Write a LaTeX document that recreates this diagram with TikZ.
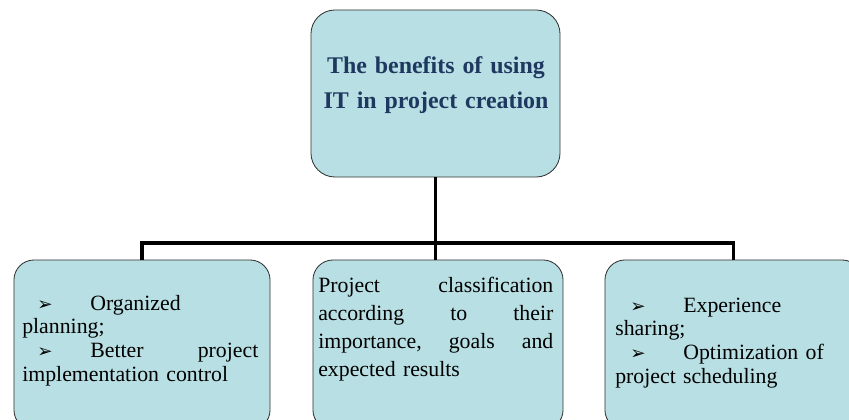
\documentclass[tikz,border=0pt]{standalone}
\usepackage{fontspec}
\setmainfont{Liberation Serif}
\newfontfamily\symfont{DejaVu Sans}
\usetikzlibrary{positioning}

\definecolor{boxfill}{RGB}{184,223,227}
\definecolor{titleblue}{RGB}{31,56,96}
\newcommand{\arrowitem}{\hspace*{0.38cm}\makebox[1.32cm][l]{\symfont\fontsize{13}{13}\selectfont ➢}}

\tikzset{
	benefitbox/.style={draw=black!80, line width=0.6pt, fill=boxfill, rounded corners=0.5cm, inner sep=0pt},
	boxtext/.style={anchor=base west, inner sep=0pt, text width=5.9cm, align=left, font=\fontsize{15.5}{17}\selectfont},
	stem/.style={line width=2.2pt, black},
}

\begin{document}
\begin{tikzpicture}[x=0.025cm, y=-0.025cm]
	\useasboundingbox (0,0) rectangle (849,420);
	\clip (0,0) rectangle (849,420);
	\node [benefitbox, minimum width=6.225cm, minimum height=4.175cm, rounded corners=0.6cm] (top) at (435.5,93.5) {};
	\node [anchor=base, inner sep=0pt, text width=6cm, align=center, text=titleblue, font=\bfseries\fontsize{17}{24.5}\selectfont] (title) at (436,74) {The benefits of using\\IT in project creation};
	\foreach \name/\cx/\w in {lb/142/6.4, mb/438/6.25, rb/733.5/6.425} {
		\node [benefitbox, minimum width=\w cm, minimum height=4.25cm] (\name) at (\cx,345) {};
	}
	\node [boxtext] (lbtext) at (22,310) {\arrowitem Organized\\planning;\\\arrowitem Better\hfill project\\implementation control};
	\node [boxtext, text width=5.875cm, font=\fontsize{15.5}{20.1}\selectfont] (mbtext) at (318,292) {Project\hfill classification\\according\hfill to\hfill their\\importance,\hfill goals\hfill and\\expected results};
	\node [boxtext] (rbtext) at (615,312) {\arrowitem Experience\\sharing;\\\arrowitem Optimization of\\project scheduling};
	% connectors
	\coordinate (bar) at (436,243);
	\draw [stem] (top.south) -- (top.south |- mb.north);
	\draw [stem] (lb.north) |- (bar) -| (rb.north);
\end{tikzpicture}
\end{document}
